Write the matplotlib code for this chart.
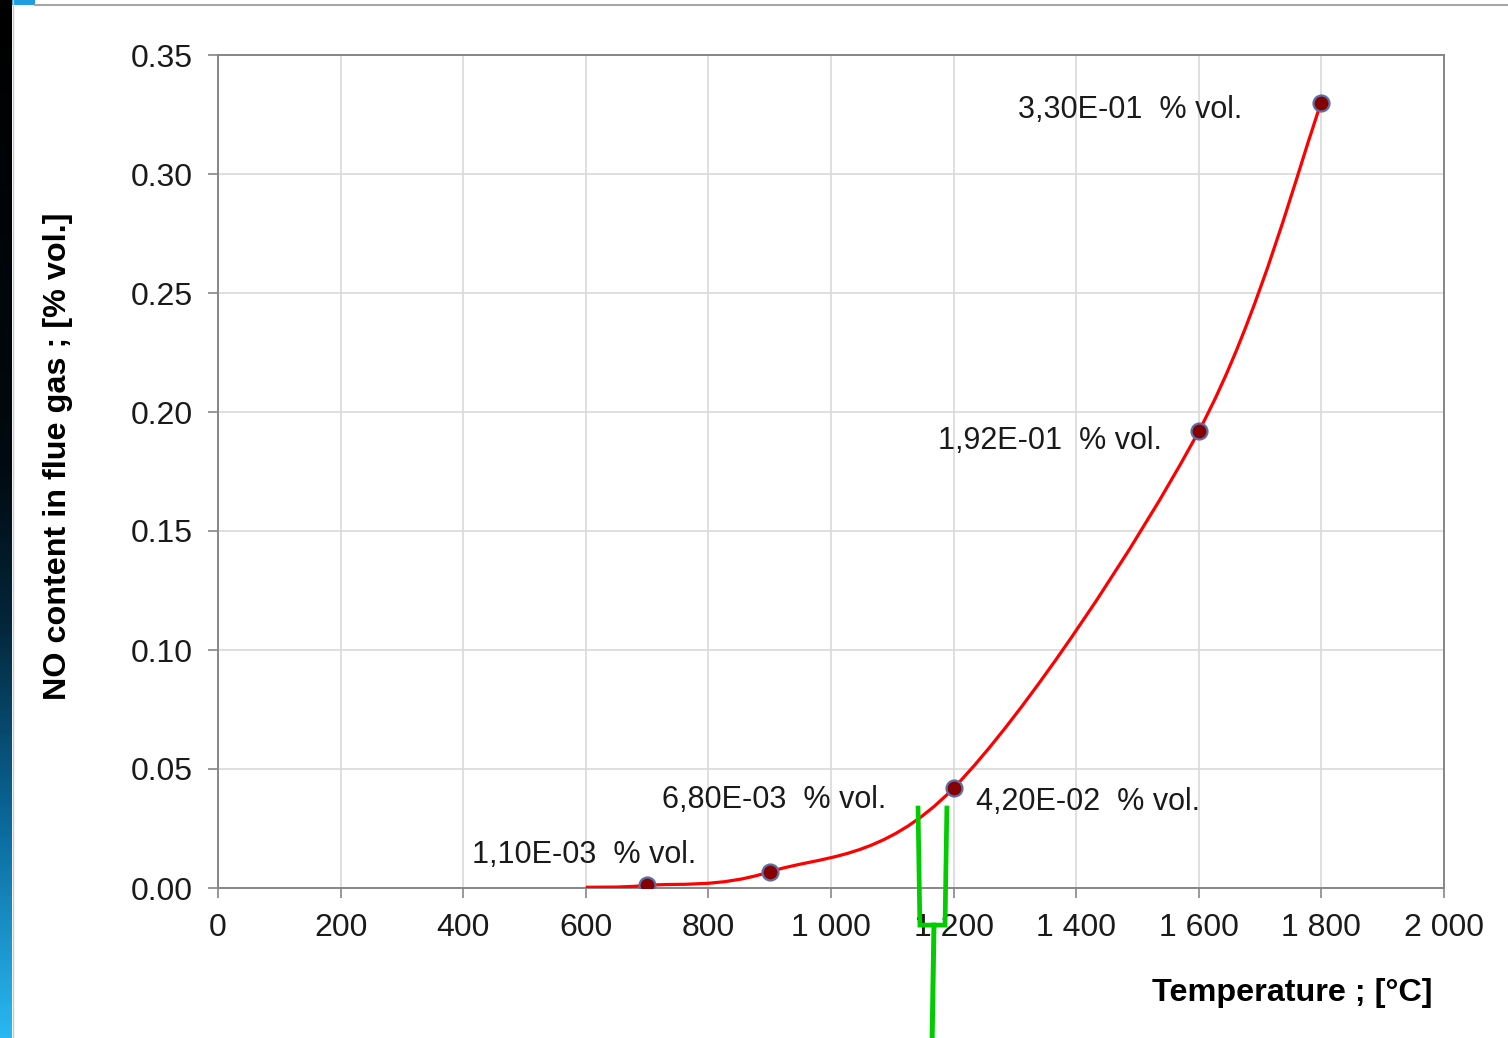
import numpy as np
import matplotlib
matplotlib.use("Agg")
import matplotlib.pyplot as plt
from matplotlib.path import Path
from matplotlib.patches import PathPatch, Rectangle
from matplotlib.colors import LinearSegmentedColormap
from matplotlib.ticker import FuncFormatter

plt.rcParams["font.family"] = ["Liberation Sans", "DejaVu Sans"]

# curve (Excel-style smoothed line) and labelled measurement points
curve_temp = [600, 700, 900, 1200, 1600, 1800]
curve_no = [0.0003, 0.0011, 0.0068, 0.042, 0.192, 0.330]
point_temp = [700, 900, 1200, 1600, 1800]
point_no = [0.0011, 0.0068, 0.042, 0.192, 0.330]
point_labels = ["1,10E-03  % vol.", "6,80E-03  % vol.", "4,20E-02  % vol.",
                "1,92E-01  % vol.", "3,30E-01  % vol."]
label_offsets = [(-63, 30), (4, 72), (134, -14), (-149, -10), (-191, -7)]  # pixels

x_ticks = np.arange(0, 2001, 200)
y_ticks = np.arange(0, 0.351, 0.05)

# green hand-drawn marker around 1200 (data coords)
bracket_x = [1142, 1145, 1186, 1189]
bracket_y = [0.0336, -0.0156, -0.0156, 0.0336]
stem_x = [1168, 1165]
stem_y = [-0.0156, -0.063]

W, H = 1508, 1038
fig = plt.figure(figsize=(W / 100, H / 100), dpi=100, facecolor="white")

# slide decoration: dark-to-blue strip on the left, thin rule on top
strip = fig.add_axes([0, 0, 12 / W, 1])
cmap = LinearSegmentedColormap.from_list(
    "strip", [(0, "#2ab8f2"), (0.2, "#0b6a9e"), (0.4, "#03263a"), (0.55, "#010a10"), (1, "#000000")])
strip.imshow(np.linspace(0, 1, 256)[:, None], aspect="auto", cmap=cmap, origin="lower")
strip.axis("off")
fig.patches.append(Rectangle((12 / W, 1 - 5 / H), 23 / W, 5 / H, transform=fig.transFigure,
                             facecolor="#1e9ee0", edgecolor="none"))
fig.add_artist(plt.Line2D([35 / W, 1], [1 - 5 / H, 1 - 5 / H], transform=fig.transFigure,
                          color="#a6a6a6", lw=1.5))
fig.add_artist(plt.Line2D([12.5 / W, 12.5 / W], [0, 1], transform=fig.transFigure,
                          color="#c8c8c8", lw=1))

ax = fig.add_axes([218 / W, 1 - 888 / H, 1226 / W, 833 / H])
ax.set_xlim(0, 2000)
ax.set_ylim(0, 0.35)
ax.set_xticks(x_ticks)
ax.set_yticks(y_ticks)
ax.xaxis.set_major_formatter(FuncFormatter(lambda v, p: f"{int(v):,}".replace(",", " ")))
ax.yaxis.set_major_formatter(FuncFormatter(lambda v, p: f"{v:.2f}"))
ax.grid(True, color="#d9d9d9", lw=1.2)
ax.set_axisbelow(True)
for s in ax.spines.values():
    s.set_color("#868686")
    s.set_linewidth(1.4)
ax.tick_params(direction="out", length=7, width=1.2, color="#868686",
               labelsize=23, labelcolor="#1a1a1a")
ax.tick_params(axis="y", pad=11)
ax.tick_params(axis="x", pad=11)

# smoothed curve: Catmull-Rom / Bezier as Excel does it
pts = np.column_stack([curve_temp, curve_no])
ext = np.vstack([pts[0], pts, pts[-1]])
verts = [pts[0]]
codes = [Path.MOVETO]
for i in range(1, len(ext) - 2):
    p0, p1, p2, p3 = ext[i - 1], ext[i], ext[i + 1], ext[i + 2]
    verts += [p1 + (p2 - p0) / 6, p2 - (p3 - p1) / 6, p2]
    codes += [Path.CURVE4] * 3
ax.add_patch(PathPatch(Path(verts, codes), facecolor="none", edgecolor="#ff0000", lw=2.3, zorder=3))

ax.plot(point_temp, point_no, "o", ms=11.5, mfc="#850000", mec="#5f6fa3", mew=1.6, zorder=4)
for x, y, lab, off in zip(point_temp, point_no, point_labels, label_offsets):
    ax.annotate(lab, (x, y), xytext=off, textcoords="offset pixels",
                ha="center", va="center", fontsize=22, color="#1a1a1a")

ax.plot(bracket_x, bracket_y, color="#00cc00", lw=3.4, clip_on=False, zorder=6,
        solid_joinstyle="miter")
ax.plot(stem_x, stem_y, color="#00cc00", lw=3.6, clip_on=False, zorder=6)

fig.text(58 / W, 1 - 456 / H, "NO content in flue gas ; [% vol.]", rotation=90,
         ha="center", va="center", fontsize=23.3, fontweight="bold", color="black")
fig.text(1432 / W, 1 - 993 / H, "Temperature ; [°C]", ha="right", va="center",
         fontsize=23.3, fontweight="bold", color="black")

fig.savefig("out.png", dpi=100, facecolor="white")
